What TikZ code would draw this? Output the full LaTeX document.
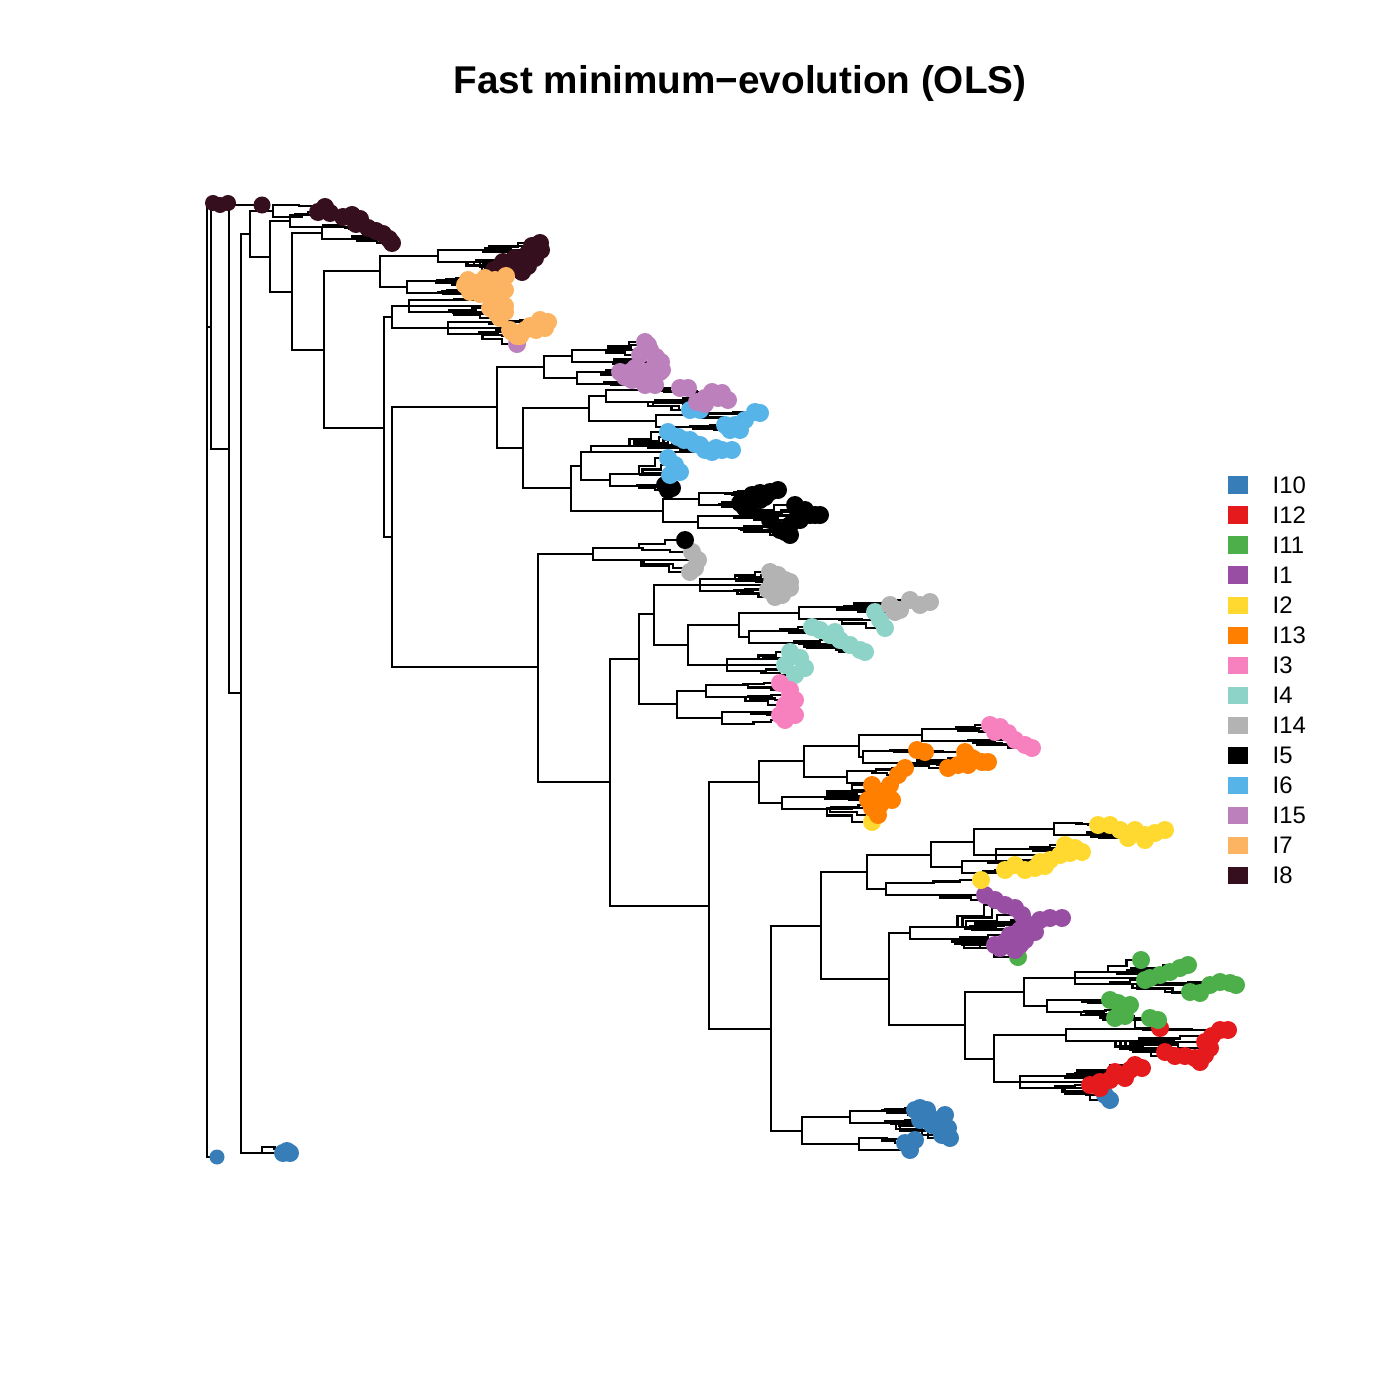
\documentclass[tikz,border=0pt]{standalone}
\usepackage{fontspec}
\setmainfont{Liberation Sans}
\usepackage{tikz}
\usetikzlibrary{calc}

\pgfdeclarelayer{branches}
\pgfsetlayers{branches,main}

\definecolor{cI10}{HTML}{377EB8}
\definecolor{cI12}{HTML}{E41A1C}
\definecolor{cI11}{HTML}{4DAF4A}
\definecolor{cI1}{HTML}{984EA3}
\definecolor{cI2}{HTML}{FFD92F}
\definecolor{cI13}{HTML}{FF7F00}
\definecolor{cI3}{HTML}{F781BF}
\definecolor{cI4}{HTML}{8DD3C7}
\definecolor{cI14}{HTML}{B3B3B3}
\definecolor{cI5}{HTML}{000000}
\definecolor{cI6}{HTML}{56B4E9}
\definecolor{cI15}{HTML}{BC80BD}
\definecolor{cI7}{HTML}{FDB462}
\definecolor{cI8}{HTML}{360F1F}

\tikzset{
  branch/.style={line width=0.6pt},
  keybox/.style={minimum width=0.2cm, minimum height=0.17cm, inner sep=0pt},
  keytext/.style={anchor=west, inner sep=0pt, font=\fontsize{6.8}{8}\selectfont},
  heading/.style={font=\bfseries\fontsize{11}{13}\selectfont}
}

% clado terminal: dos ramas desde el nodo, luego escoba hasta los puntos
\newcommand{\clade}[3]{%
  \begin{pgfonlayer}{branches}
  \foreach \px/\py in {#3} {\draw[branch] let \p1=(#1), \p2=(\px,\py),
      \n1={\y1+1.7pt*sign(\y2-\y1)} in
    (\p1) |- ({\x1+0.5*(\x2-\x1)},\n1) |- ({\x1+0.78*(\x2-\x1)},{0.5*(\n1+\y2)}) |- (\p2);}
  \end{pgfonlayer}
  \foreach \px/\py in {#3} {\fill[#2] (\px,\py) circle (0.09cm);}
}

\begin{document}
\begin{tikzpicture}[x=0.01cm,y=-0.01cm]
\useasboundingbox (0,0) rectangle (1400,1400);

% Titulo
\node[heading] (title) at (740,83) {Fast minimum−evolution (OLS)};

% Nodos internos
\foreach \n/\x/\y in {root/207/680, tA/213/203, nC/211/327, tB/217/1157,
    tC/220/205, nB/229/449, tD/262/205, nA/241/693, n1/250/234, gB/262/1153,
    g1/273/211, n2/270/257, g2/290/221, n3/292/292, g3/322/233, n4/324/350,
    n5/380/271, n6/384/428, g4/438/256, g5/407/287, n6a/392/317, n7/392/537,
    g6/409/306, g7/448/328, n8/497/407, n9/538/667, n8a/544/367, n8b/523/448,
    g8/572/356, g9/577/378, n8c/589/408, n8d/571/488, g10/606/396, g11/656/421,
    n8e/581/466, n8f/663/511, g12/591/452, g13/610/480, g14/699/499, g15/698/522,
    g16/593/554, n10/610/782, n11/639/659, n14/709/906, n12/654/614, n11b/677/704,
    g17/700/585, n13/688/645, n13a/739/625, g18/727/665, g19/799/613, g20/749/637,
    g21/706/691, g22/722/718, n15/759/782, n16/771/1029, n15a/804/761, g23/782/803,
    n15b/859/746, g24/847/777, g25/922/735, g26/863/757, n17/821/926, n21/802/1131,
    n18/867/872, n19/889/979, n18a/931/855, g27/886/889, n18b/974/842, g28/962/867,
    g29/1054/829, g30/996/855, g31/910/933, n20/965/1025, n20a/1024/992,
    n20b/994/1059, g32/1075/978, g33/1047/1006, g34/1066/1035, g35/1020/1082,
    g36/850/1117, g37/859/1144}
  \coordinate (\n) at (\x,\y);

% Ramas internas
\foreach \p/\c in {root/tA, root/nC, root/tB, nC/tC, nC/nB, nB/tD, nB/nA,
    nA/n1, nA/gB, n1/g1, n1/n2, n2/g2, n2/n3, n3/g3, n3/n4, n4/n5, n4/n6,
    n5/g4, n5/g5, n6/n6a, n6/n7, n6a/g6, n6a/g7, n7/n8, n7/n9, n8/n8a, n8/n8b,
    n8a/g8, n8a/g9, n8b/n8c, n8b/n8d, n8c/g10, n8c/g11, n8d/n8e, n8d/n8f,
    n8e/g12, n8e/g13, n8f/g14, n8f/g15, n9/g16, n9/n10, n10/n11, n10/n14,
    n11/n12, n11/n11b, n12/g17, n12/n13, n13/n13a, n13/g18, n13a/g19, n13a/g20,
    n11b/g21, n11b/g22, n14/n15, n14/n16, n15/n15a, n15/g23, n15a/n15b, n15a/g24,
    n15b/g25, n15b/g26, n16/n17, n16/n21, n17/n18, n17/n19, n18/n18a, n18/g27,
    n18a/n18b, n18a/g28, n18b/g29, n18b/g30, n19/g31, n19/n20, n20/n20a,
    n20/n20b, n20a/g32, n20a/g33, n20b/g34, n20b/g35, n21/g36, n21/g37}
  \draw[branch] (\p) |- (\c);

% Hojas sueltas
\fill[cI8] (tA) circle (0.08cm);
\fill[cI8] (tC) circle (0.08cm) (228,203) circle (0.08cm);
\fill[cI8] (tD) circle (0.085cm);
\fill[cI10] (tB) circle (0.075cm);
\clade{gB}{cI10}{283/1153, 290/1153, 287/1151}

% Clados I8 y I7
\clade{g1}{cI8}{318/212, 325/207, 330/213}
\clade{g2}{cI8}{343/217, 352/215, 360/219, 356/224}
\clade{g3}{cI8}{368/228, 376/231, 383/234, 389/239, 392/243}
\clade{g4}{cI8}{540/243, 541/250, 528/253, 515/258, 503/262, 494/270, 510/268, 528/266, 520/262, 535/258, 522/272, 498/268, 532/246}
\clade{g5}{cI7}{465/285, 476/283, 488/288, 495/280, 506/276, 470/292, 480/294, 485/278, 500/285, 492/295, 478/290, 468/280, 505/290}
\clade{g6}{cI7}{492/300, 500/298, 505/306, 497/314, 490/308, 500/318, 495/308, 505/312}
\clade{g7}{cI15}{517/344}
\clade{g7}{cI7}{510/330, 520/336, 530/326, 540/320, 548/322, 536/330, 525/330, 517/336, 545/328, 512/332}

% Clados I15, I6 y I5
\clade{g8}{cI15}{645/342, 650/350, 656/357, 661/362, 640/355, 648/345, 655/365}
\clade{g9}{cI15}{660/372, 650/380, 640/375, 630/372, 620/372, 625/377, 645/385, 655/385, 662/370, 635/368, 645/372, 632/380}
\clade{g10}{cI6}{690/410, 700/410}
\clade{g10}{cI15}{680/388, 688/388, 697/402, 705/404, 712/392, 722/393, 728/400, 705/398, 718/398}
\clade{g11}{cI6}{725/425, 735/425, 745/420, 755/412, 760/413, 730/430, 740/430}
\clade{g12}{cI6}{668/432, 678/437, 690/440, 700/445, 712/452, 722/450, 732/450, 705/450, 684/440, 695/444, 716/448}
\clade{g13}{cI5}{665/485, 672/488, 668/490}
\clade{g13}{cI6}{668/458, 675/465, 680/472, 670/475}
\clade{g14}{cI5}{745/500, 752/495, 760/493, 770/492, 778/490, 760/500, 750/505, 765/497, 740/503, 745/508}
\clade{g15}{cI5}{795/505, 805/510, 815/515, 820/515, 800/520, 790/525, 780/530, 790/535, 770/520, 810/515, 798/512, 785/532}

% Clados I14, I4 y I3
\clade{g16}{cI14}{692/552, 698/560, 695/568, 690/572}
\clade{g16}{cI5}{685/540}
\clade{g17}{cI14}{770/572, 778/575, 785/580, 790/588, 782/595, 775/597, 768/590, 772/582, 780/585, 790/582}
\clade{g19}{cI4}{875/612, 880/620, 885/628}
\clade{g19}{cI14}{890/605, 900/610, 910/600, 920/605, 930/602, 895/612}
\clade{g20}{cI4}{812/627, 820/630, 830/635, 840/640, 850/645, 860/650, 865/652, 835/632}
\clade{g18}{cI4}{790/652, 800/658, 805/668, 795/675, 785/665}
\clade{g21}{cI3}{780/683, 790/690, 795/700, 785/705, 790/695}
\clade{g22}{cI3}{790/712, 785/720, 780/715, 795/715}

% Clados I3, I13 y I2
\clade{g25}{cI3}{990/725, 1000/727, 1008/733, 1015/740, 1025/745, 1032/748, 995/732}
\clade{g26}{cI13}{917/750, 925/752, 965/752, 972/758, 982/762, 988/762, 958/765, 948/768, 968/765, 975/760}
\clade{g24}{cI13}{905/768, 898/775, 890/785}
\clade{g23}{cI2}{872/822}
\clade{g23}{cI13}{872/785, 878/792, 885/798, 892/800, 872/808, 878/815, 868/800, 880/805, 888/795, 875/790}
\clade{g29}{cI2}{1098/825, 1110/825, 1120/830, 1135/830, 1145/835, 1155/833, 1165/830, 1145/840, 1128/838}
\clade{g30}{cI2}{1065/845, 1075/848, 1082/852, 1060/855, 1050/860, 1040/862, 1070/853}
\clade{g28}{cI2}{1015/865, 1025/870, 1035/868, 1005/870, 1045/866}

% Clados I1, I11, I12 y I10
\clade{g27}{cI1}{985/895, 995/900}
\clade{g27}{cI2}{981/880}
\clade{g31}{cI11}{1018/957}
\clade{g31}{cI1}{1005/905, 1015/908, 1022/915, 1040/920, 1050/918, 1062/918, 1030/925, 1020/930, 1010/935, 1005/942, 1000/948, 1015/950, 1025/940, 1010/940, 1020/945, 1035/932, 995/945}
\clade{g32}{cI11}{1141/960, 1150/978, 1160/975, 1170/972, 1180/968, 1188/965, 1145/980, 1190/992, 1200/993, 1210/985, 1220/982, 1230/983, 1236/985}
\clade{g33}{cI12}{1160/1028}
\clade{g33}{cI11}{1110/1000, 1118/1003, 1122/1010, 1125/1016, 1115/1018, 1130/1005, 1150/1018, 1158/1020}
\clade{g34}{cI12}{1205/1042, 1212/1036, 1220/1030, 1228/1030, 1210/1048, 1165/1052, 1175/1056, 1185/1056, 1195/1058, 1205/1055, 1200/1062}
\clade{g35}{cI10}{1110/1100, 1105/1095}
\clade{g35}{cI12}{1090/1085, 1100/1082, 1110/1080, 1120/1075, 1130/1070, 1142/1068, 1100/1088, 1115/1072, 1125/1078, 1135/1065}
\clade{g36}{cI10}{915/1110, 925/1115, 935/1120, 945/1115, 948/1128, 950/1138, 932/1125, 920/1108, 940/1120, 920/1120, 927/1110, 942/1135}
\clade{g37}{cI10}{905/1143, 910/1150, 915/1140}

% Leyenda
\foreach \lab [count=\k from 0] in {I10,I12,I11,I1,I2,I13,I3,I4,I14,I5,I6,I15,I7,I8} {
  \node[keybox, fill=c\lab] (key\lab) at (1238,{485+30*\k}) {};
  \node[keytext] (lab\lab) at (1272,{485+30*\k}) {\lab};
}

\end{tikzpicture}
\end{document}
